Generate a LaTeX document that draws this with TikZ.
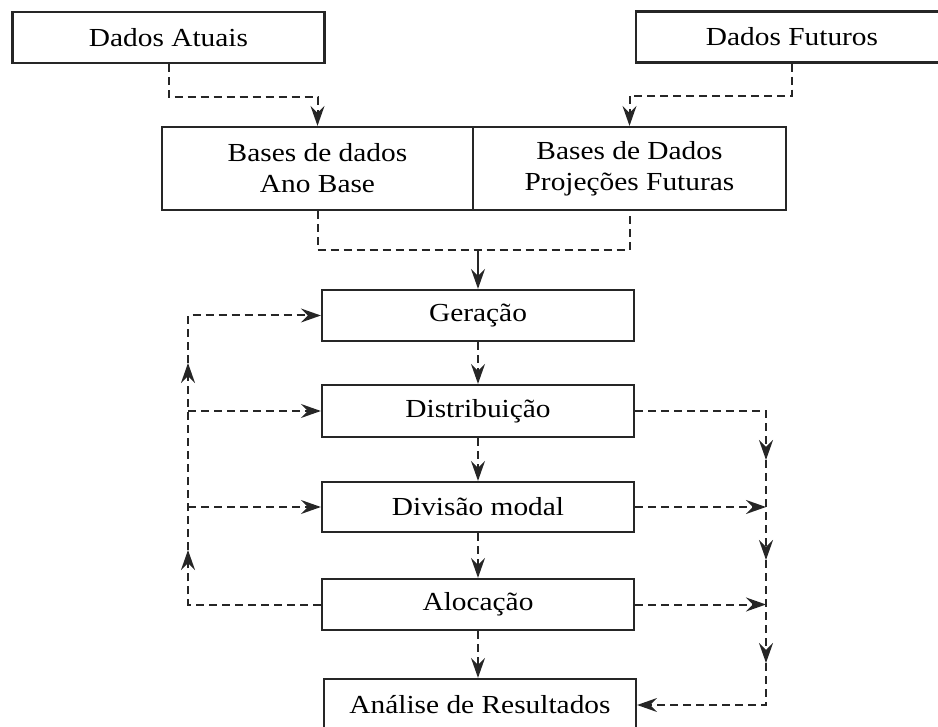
\documentclass[tikz,border=0pt]{standalone}
\usepackage{fontspec}
\usepackage{graphicx}
\setmainfont{Liberation Serif}
\usetikzlibrary{arrows.meta}
\newcommand{\sx}[1]{\scalebox{1.13}[1]{#1}}
\begin{document}
\begin{tikzpicture}[x=1pt,y=-1pt,
  box/.style={draw=black!85, line width=2.2pt, minimum width=312pt, minimum height=51pt,
    inner sep=0pt, font=\fontsize{26}{31}\selectfont, text=black, fill=white},
  dl/.style={draw=black!85, line width=2pt, dash pattern=on 8pt off 5pt},
  sl/.style={draw=black!85, line width=2pt},
  tip/.style={-{Stealth[length=20pt,width=14pt,inset=7pt]}},
]
\useasboundingbox (0,0) rectangle (938,727);

% nodes
\node[box] (atu) at (168.5,37.5) {\sx{Dados Atuais}};
\node[box] (fut) at (792,37) {\sx{Dados Futuros}};
\node[box, minimum width=311pt, minimum height=83pt, align=center] (b1) at (317.5,168.5)
  {\sx{Bases de dados}\\\sx{Ano Base}};
\node[box, minimum width=313pt, minimum height=83pt, align=center] (b2) at (629.5,168.5)
  {\sx{Bases de Dados}\\\sx{Projeções Futuras}};
\node[box] (ger) at (478,315.5) {\sx{Geração}};
\node[box, minimum height=52pt] (dis) at (478,411) {\sx{Distribuição}};
\node[box, minimum height=50pt] (div) at (478,507) {\sx{Divisão modal}};
\node[box] (alo) at (478,604.5) {\sx{Alocação}};
\node[box, minimum height=52pt] (ana) at (480,705) {\sx{Análise de Resultados}};

% coordinates
\coordinate (j) at (478,250);
\coordinate (L1) at (188,315.5);
\coordinate (L2) at (188,411);
\coordinate (L3) at (188,507);
\coordinate (L4) at (188,604.5);
\coordinate (La) at (188,550);
\coordinate (Lb) at (188,363);
\coordinate (R1) at (766,411);
\coordinate (R2) at (766,507);
\coordinate (R3) at (766,604.5);
\coordinate (R4) at (766,705);
\coordinate (Ra) at (766,460);
\coordinate (Rb) at (766,560);
\coordinate (Rc) at (766,663);

% top connectors
\draw[dl,tip] (atu.south) -- ++(0,33) -| (b1.north);
\draw[dl,tip] (fut.south) -- ++(0,32) -| (b2.north);
\draw[dl] (b1.south) |- (j) -| (b2.south);
\draw[sl,tip] (j) -- (ger.north);

% main flow
\draw[dl,tip] (ger.south) -- (dis.north);
\draw[dl,tip] (dis.south) -- (div.north);
\draw[dl,tip] (div.south) -- (alo.north);
\draw[dl,tip] (alo.south) -- (alo.south |- ana.north);

% left feedback
\draw[dl,tip] (alo.west) -- (L4) -- (La);
\draw[dl,tip] (La) -- (Lb);
\draw[dl,tip] (Lb) -- (L1) -- (ger.west);
\draw[dl,tip] (L2) -- (dis.west);
\draw[dl,tip] (L3) -- (div.west);

% right collection
\draw[dl,tip] (dis.east) -- (R1) -- (Ra);
\draw[dl,tip] (Ra) -- (Rb);
\draw[dl,tip] (Rb) -- (Rc);
\draw[dl,tip] (Rc) -- (R4) -- (ana.east);
\draw[dl,tip] (div.east) -- (R2);
\draw[dl,tip] (alo.east) -- (R3);
\end{tikzpicture}
\end{document}
